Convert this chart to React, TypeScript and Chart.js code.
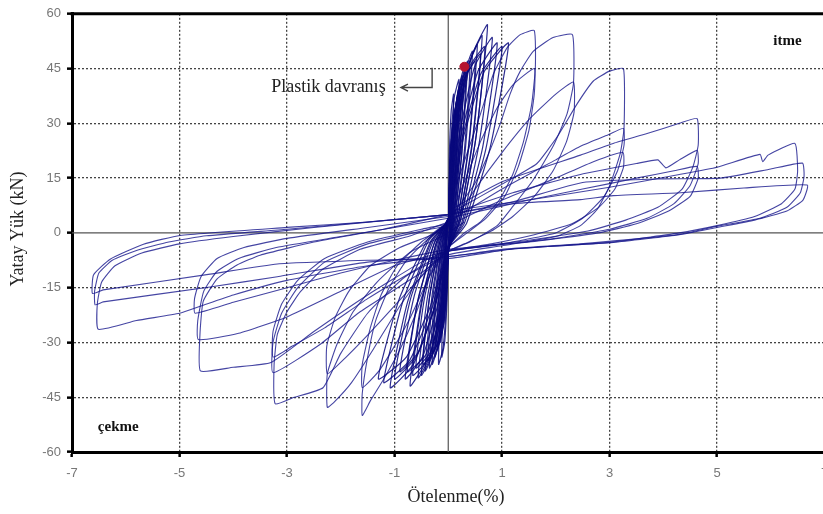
import React, { useEffect, useRef } from 'react';
import { Chart, registerables } from 'chart.js';

Chart.register(...registerables);

type Pt = [number, number];

// Axis ticks
const xTickValues = [-7, -5, -3, -1, 1, 3, 5, 7];
const yTickValues = [-60, -45, -30, -15, 0, 15, 30, 45, 60];

// Yield point marker ("Plastik davranış")
const yieldPoint: Pt[] = [[0.3, 45.5]];

// Small (elastic / early plastic) cycles
const cycleS01: Pt[] = [[0.01,2],[0.015,10],[0.036,17],[0.06,20],[0.042,9],[0.018,1],[0,-4],[-0.013,-7.5],[-0.03,-12.8],[-0.05,-15],[-0.035,-6.8],[-0.015,-0.8],[0,3]];
const cycleS02: Pt[] = [[0.01,2],[0.02,13],[0.048,22],[0.08,26],[0.056,11.7],[0.024,1.3],[0,-4],[-0.018,-10],[-0.042,-17],[-0.07,-20],[-0.049,-9],[-0.021,-1],[0,3]];
const cycleS03: Pt[] = [[0.01,2],[0.025,15],[0.06,25.5],[0.1,30],[0.07,13.5],[0.03,1.5],[0,-4],[-0.025,-12],[-0.06,-20.4],[-0.1,-24],[-0.07,-10.8],[-0.03,-1.2],[0,3]];
const cycleS04: Pt[] = [[0.01,2],[0.03,16.5],[0.072,28],[0.12,33],[0.084,14.9],[0.036,1.7],[0,-4],[-0.03,-13.5],[-0.072,-23],[-0.12,-27],[-0.084,-12.2],[-0.036,-1.4],[0,3]];
const cycleS05: Pt[] = [[0.01,2],[0.038,17.5],[0.09,29.8],[0.15,35],[0.105,15.8],[0.045,1.8],[0,-4],[-0.038,-15],[-0.09,-25.5],[-0.15,-30],[-0.105,-13.5],[-0.045,-1.5],[0,3]];
const cycleS06: Pt[] = [[0.01,2],[0.043,18.5],[0.1,31.5],[0.17,37],[0.12,16.7],[0.05,1.9],[0,-4],[-0.05,-16],[-0.12,-27.2],[-0.2,-32],[-0.14,-14.4],[-0.06,-1.6],[0,3]];
const cycleS07: Pt[] = [[0.01,2],[0.05,19.5],[0.12,33],[0.2,39],[0.14,17.6],[0.06,2],[0,-4],[-0.063,-17],[-0.15,-28.9],[-0.25,-34],[-0.175,-15.3],[-0.075,-1.7],[0,3]];
const cycleS08: Pt[] = [[0.01,2],[0.055,20],[0.132,34],[0.22,40],[0.154,18],[0.066,2],[0,-4],[-0.075,-18],[-0.18,-30.6],[-0.3,-36],[-0.21,-16.2],[-0.09,-1.8],[0,3]];
const cycleS09: Pt[] = [[0.01,2],[0.065,21.5],[0.156,36.5],[0.26,43],[0.18,19.4],[0.078,2.2],[0,-4],[-0.088,-18.5],[-0.21,-31.5],[-0.35,-37],[-0.245,-16.7],[-0.105,-1.9],[0,3]];
const cycleS10: Pt[] = [[0.01,2],[0.075,22.8],[0.18,38.7],[0.3,45.5],[0.21,20.5],[0.09,2.3],[0,-4],[-0.108,-18.9],[-0.258,-32.1],[-0.43,-37.8],[-0.3,-17],[-0.13,-1.9],[0,3]];
const cycleS11: Pt[] = [[0.01,2],[0.09,23.5],[0.216,40],[0.36,47],[0.25,21.2],[0.108,2.4],[0,-4],[-0.125,-19.5],[-0.3,-33.2],[-0.5,-39],[-0.35,-17.6],[-0.15,-2],[0,3]];
const cycleS12: Pt[] = [[0.01,2],[0.113,24.9],[0.27,42.2],[0.45,49.7],[0.315,22.4],[0.135,2.5],[0,-4],[-0.14,-19.9],[-0.336,-33.7],[-0.56,-39.7],[-0.39,-17.9],[-0.17,-2],[0,3]];
const cycleS13: Pt[] = [[0.01,2],[0.135,25.8],[0.324,43.9],[0.54,51.6],[0.38,23.2],[0.16,2.6],[0,-4],[-0.178,-21],[-0.426,-35.6],[-0.71,-41.9],[-0.5,-18.9],[-0.21,-2.1],[0,3]];
const cycleS14: Pt[] = [[0.01,2],[0.158,27],[0.378,45.9],[0.63,54],[0.44,24.3],[0.19,2.7],[0,-4],[-0.2,-20],[-0.48,-34],[-0.8,-40],[-0.56,-18],[-0.24,-2],[0,3]];
const cycleS15: Pt[] = [[0.01,2],[0.183,28.5],[0.438,48.5],[0.73,57],[0.51,25.7],[0.22,2.9],[0,-4],[-0.225,-19],[-0.54,-32.3],[-0.9,-38],[-0.63,-17.1],[-0.27,-1.9],[0,3]];
const cycleS16: Pt[] = [[0.01,2],[0.205,26.8],[0.49,45.5],[0.82,53.5],[0.57,24.1],[0.25,2.7],[0,-4],[-0.27,-21.2],[-0.65,-36],[-1.08,-42.4],[-0.76,-19.1],[-0.32,-2.1],[0,3]];
const cycleS17: Pt[] = [[0.01,2],[0.23,26],[0.55,44.2],[0.91,52],[0.64,23.4],[0.27,2.6],[0,-4],[-0.25,-20],[-0.6,-34],[-1.0,-40],[-0.7,-18],[-0.3,-2],[0,3]];
const cycleS18: Pt[] = [[0.01,2],[0.25,25.5],[0.6,43.4],[1.0,51],[0.7,23],[0.3,2.6],[0,-4],[-0.3,-20.5],[-0.72,-34.9],[-1.2,-41],[-0.84,-18.5],[-0.36,-2],[0,3]];
const cycleS19: Pt[] = [[0.01,2],[0.28,26],[0.67,44.2],[1.12,52],[0.78,23.4],[0.34,2.6],[0,-4],[-0.33,-20],[-0.78,-34],[-1.3,-40],[-0.91,-18],[-0.39,-2],[0,3]];

// Repeated small cycles (degraded second/third cycles)
const cycleS20: Pt[] = [[0.01,2],[0.024,16.5],[0.066,26.4],[0.12,30],[0.09,15],[0.042,2.4],[0,-5],[-0.016,-12.1],[-0.044,-19.4],[-0.08,-22],[-0.06,-11],[-0.028,-1.8],[0,4]];
const cycleS21: Pt[] = [[0.01,2],[0.036,18.7],[0.099,29.9],[0.18,34],[0.135,17],[0.063,2.7],[0,-5],[-0.028,-15.4],[-0.077,-24.6],[-0.14,-28],[-0.105,-14],[-0.049,-2.2],[0,4]];
const cycleS22: Pt[] = [[0.01,2],[0.048,20.9],[0.132,33.4],[0.24,38],[0.18,19],[0.084,3],[0,-5],[-0.044,-17],[-0.121,-27.3],[-0.22,-31],[-0.165,-15.5],[-0.077,-2.5],[0,4]];
const cycleS23: Pt[] = [[0.01,2],[0.056,22.6],[0.154,36.1],[0.28,41],[0.21,20.5],[0.098,3.3],[0,-5],[-0.06,-18.2],[-0.165,-29],[-0.3,-33],[-0.225,-16.5],[-0.105,-2.6],[0,4]];
const cycleS24: Pt[] = [[0.01,2],[0.066,24.2],[0.18,38.7],[0.33,44],[0.25,22],[0.116,3.5],[0,-5],[-0.076,-19.3],[-0.209,-30.8],[-0.38,-35],[-0.285,-17.5],[-0.133,-2.8],[0,4]];
const cycleS25: Pt[] = [[0.01,2],[0.08,24.8],[0.22,39.6],[0.4,45],[0.3,22.5],[0.14,3.6],[0,-5],[-0.094,-19.8],[-0.26,-31.7],[-0.47,-36],[-0.35,-18],[-0.165,-2.9],[0,4]];
const cycleS26: Pt[] = [[0.01,2],[0.1,25.9],[0.275,41.4],[0.5,47],[0.375,23.5],[0.175,3.8],[0,-5],[-0.12,-20.4],[-0.33,-32.6],[-0.6,-37],[-0.45,-18.5],[-0.21,-3],[0,4]];
const cycleS27: Pt[] = [[0.01,2],[0.12,27],[0.33,43.1],[0.6,49],[0.45,24.5],[0.21,3.9],[0,-5],[-0.132,-21.5],[-0.363,-34.3],[-0.66,-39],[-0.495,-19.5],[-0.231,-3.1],[0,4]];
const cycleS28: Pt[] = [[0.01,2],[0.136,28],[0.374,44.9],[0.68,51],[0.51,25.5],[0.238,4.1],[0,-5],[-0.152,-20.9],[-0.418,-33.4],[-0.76,-38],[-0.57,-19],[-0.266,-3],[0,4]];
const cycleS29: Pt[] = [[0.01,2],[0.04,23.1],[0.11,37],[0.2,42],[0.15,21],[0.07,3.4],[0,-5],[-0.036,-19.8],[-0.099,-31.7],[-0.18,-36],[-0.135,-18],[-0.063,-2.9],[0,4]];
const cycleS30: Pt[] = [[0.01,2],[0.02,20.9],[0.055,33.4],[0.1,38],[0.075,19],[0.035,3],[0,-5],[-0.024,-18.7],[-0.066,-29.9],[-0.12,-34],[-0.09,-17],[-0.042,-2.7],[0,4]];

// Drift level ±1.6 %
const cycleL7a: Pt[] = [[0.1,11],[0.35,21.8],[0.6,32.6],[0.84,43.5],[1.1,50.8],[1.34,54.3],[1.6,55.4],[1.62,45],[1.55,35],[1.4,25],[1.2,16],[0.95,9],[0.6,3],[0.3,0],[0,-4],[-0.3,-10],[-0.6,-22],[-0.9,-32],[-1.2,-40],[-1.45,-46],[-1.6,-50],[-1.6,-44],[-1.5,-34],[-1.35,-24],[-1.1,-15],[-0.8,-8],[-0.4,-2],[0,3]];
const cycleL7b: Pt[] = [[0,3],[0.3,14],[0.6,25],[0.9,34],[1.2,40.5],[1.6,45],[1.6,38],[1.5,28],[1.3,18],[1.05,10],[0.7,4],[0.35,0],[0,-4],[-0.35,-12],[-0.7,-23],[-1.0,-31],[-1.3,-38],[-1.6,-42.4],[-1.6,-36],[-1.45,-26],[-1.25,-17],[-0.95,-9],[-0.5,-2.5],[0,3]];

// Drift level ±2.3 %
const cycleL8a: Pt[] = [[0.1,5.5],[0.47,12.9],[0.73,21],[0.97,30],[1.15,38],[1.34,44.3],[1.58,49.7],[1.95,53.5],[2.31,54.3],[2.33,41],[2.21,32.6],[1.95,23.7],[1.58,14.5],[1.21,7.4],[0.91,2],[0.4,-2.5],[0,-5],[-0.4,-10],[-0.9,-20],[-1.4,-32],[-1.8,-41],[-2.1,-46],[-2.25,-47.8],[-2.25,-38.6],[-2.07,-30.5],[-1.77,-21.6],[-1.32,-13.4],[-0.71,-5.3],[-0.09,-0.7],[0.3,3]];
const cycleL8b: Pt[] = [[0.1,3],[0.5,12],[1.0,22],[1.5,31],[2.0,38],[2.33,41.3],[2.34,33],[2.2,25],[1.95,17],[1.6,10],[1.2,4.5],[0.8,0.5],[0.3,-3],[0,-5],[-0.5,-12],[-1.0,-20],[-1.5,-28],[-1.9,-34],[-2.25,-38.6],[-2.26,-31],[-2.1,-23],[-1.85,-16],[-1.45,-9],[-0.9,-4],[-0.3,-0.5],[0.1,3]];

// Drift level ±3.2 %
const cycleL9a: Pt[] = [[0,5],[0.6,10],[1.2,15],[1.65,19],[2.03,26.4],[2.4,35.4],[2.7,41.6],[3.0,44.3],[3.26,45],[3.27,28.6],[3.2,21.8],[3.0,12.8],[2.77,6.4],[2.46,2],[2.0,-1],[1.0,-3.5],[0,-6],[-0.8,-12],[-1.5,-22],[-2.0,-33],[-2.33,-42.4],[-2.88,-45.1],[-3.22,-46.8],[-3.24,-36],[-3.18,-27.8],[-3.0,-21.6],[-2.75,-16.1],[-2.33,-9.9],[-1.64,-4.5],[-0.7,-0.8],[0,3]];
const cycleL9b: Pt[] = [[0,3],[1,12],[2,20],[2.46,23.7],[3.0,27],[3.26,28.6],[3.27,24],[3.15,17],[2.9,10],[2.5,4],[2.0,0],[1.0,-3],[0,-5],[-0.4,-9.9],[-1.64,-21.6],[-2.38,-30.5],[-3.26,-38.3],[-3.26,-30],[-3.1,-22],[-2.8,-15],[-2.3,-8],[-1.5,-3],[-0.5,0.5],[0,2]];
const cycleL9c: Pt[] = [[0,2],[1,9],[2,15],[2.7,19.5],[3.25,22],[3.26,18],[3.1,12],[2.8,7],[2.3,2.5],[1.6,-0.5],[0.8,-3],[0,-5],[-0.6,-10],[-1.5,-18],[-2.3,-26],[-2.9,-31],[-3.26,-34],[-3.26,-27],[-3.1,-19.5],[-2.8,-13],[-2.3,-7],[-1.5,-2.5],[-0.5,1],[0,2.5]];

// Drift level ±4.6 %
const cycleL10a: Pt[] = [[0,6],[1,14],[2.46,21.3],[3.07,24.5],[3.7,27.2],[4.3,30],[4.63,31.3],[4.65,24],[4.55,18],[4.35,12],[3.9,7],[3.3,3.5],[2.6,0.5],[1.5,-2],[0,-5],[-0.5,-8],[-1.5,-17],[-2.5,-27],[-3.3,-35.5],[-4.0,-36.8],[-4.61,-37.8],[-4.62,-28],[-4.56,-18.8],[-4.3,-12.6],[-3.93,-8.8],[-3.5,-6.1],[-2.5,-2.5],[-1.2,1],[0,5]];
const cycleL10b: Pt[] = [[0,5],[1.2,11],[2.46,16],[3.5,19],[3.9,20],[4.05,17.8],[4.3,20],[4.63,22.6],[4.65,19],[4.5,13],[4.2,8],[3.7,4],[3,1],[2,-1.5],[0.8,-3.5],[0,-5],[-1,-9],[-2,-16],[-3,-23],[-3.9,-27.5],[-4.65,-29.2],[-4.66,-24],[-4.55,-16],[-4.3,-10.5],[-3.9,-7],[-3.2,-4],[-2,-1],[0,4]];
const cycleL10c: Pt[] = [[0,4],[1.5,9],[2.5,12],[3.5,15],[4.2,17],[4.63,18.2],[4.65,15],[4.5,10],[4.1,6],[3.5,2.5],[2.8,0],[1.5,-2.5],[0,-4.5],[-1,-7.5],[-2,-11],[-3,-15],[-4,-19],[-4.71,-22],[-4.72,-18],[-4.6,-12],[-4.3,-7],[-3.8,-4],[-3,-1.5],[-1.5,1.5],[0,4.5]];

// Drift level ±6.5 %
const cycleL11a: Pt[] = [[0,6],[1.5,9],[3,12.5],[4.3,16],[5,18],[5.8,21.5],[5.85,19.5],[5.95,21.3],[6.45,24.5],[6.5,17],[6.45,12],[6.2,8],[5.7,4.5],[5,2],[4.3,0],[3,-2.6],[1.2,-4.4],[0,-6.5],[-1.5,-9],[-3,-13],[-4.0,-17],[-4.6,-20],[-5,-22],[-5.8,-24],[-6.51,-26.4],[-6.53,-19.6],[-6.45,-13.5],[-6.2,-9],[-5.7,-5.5],[-5.0,-3],[-4,-1],[-2.5,1.5],[0,5]];
const cycleL11b: Pt[] = [[0,5],[1.2,8.5],[2.5,13.8],[4,14.8],[5.06,15],[6,17.5],[6.59,19.1],[6.62,15.5],[6.55,11],[6.3,7],[5.8,4],[5,1.8],[4.3,-0.4],[2.46,-3],[1,-4.5],[0,-6.5],[-1.5,-8],[-3.18,-12],[-4.43,-14.8],[-6.42,-18.9],[-6.57,-19.7],[-6.58,-16],[-6.5,-11],[-6.25,-7.5],[-5.8,-4.8],[-5.2,-2.5],[-4.5,-0.8],[-3,1],[0,5]];
const cycleL11c: Pt[] = [[0,5],[1.2,8],[2.46,9.1],[3.07,10.2],[4.32,11],[5.5,12.3],[6.68,13.1],[6.6,9],[6.3,6],[5.7,3.5],[5,1.5],[4.3,-0.5],[3.07,-2.6],[1.2,-4.4],[0,-7],[-1.5,-7.5],[-3.18,-8.5],[-4.43,-11.3],[-6.42,-15.6],[-6.62,-16.6],[-6.6,-11.5],[-6.29,-7.2],[-5.67,-3.1],[-4.99,-0.7],[-3,1.5],[-1.5,3],[0,5]];

const smallLoops: Pt[][] = [
  cycleS01, cycleS02, cycleS03, cycleS04, cycleS05, cycleS06, cycleS07, cycleS08, cycleS09, cycleS10,
  cycleS11, cycleS12, cycleS13, cycleS14, cycleS15, cycleS16, cycleS17, cycleS18, cycleS19,
  cycleS20, cycleS21, cycleS22, cycleS23, cycleS24, cycleS25, cycleS26, cycleS27, cycleS28, cycleS29, cycleS30,
];

const largeLoops: Pt[][] = [
  cycleL7a, cycleL7b, cycleL8a, cycleL8b, cycleL9a, cycleL9b, cycleL9c,
  cycleL10a, cycleL10b, cycleL10c, cycleL11a, cycleL11b, cycleL11c,
];

const LINE = 'rgba(22,22,140,0.8)';
const LINE_DENSE = 'rgba(8,8,125,0.85)';

const decor = {
  id: 'decor',
  beforeDatasetsDraw(chart: any) {
    const { ctx, chartArea, scales } = chart;
    const x0 = scales.x.getPixelForValue(0);
    const y0 = scales.y.getPixelForValue(0);
    ctx.save();
    ctx.strokeStyle = '#555';
    ctx.lineWidth = 1.2;
    ctx.beginPath();
    ctx.moveTo(chartArea.left, y0);
    ctx.lineTo(chartArea.right, y0);
    ctx.moveTo(x0, chartArea.top);
    ctx.lineTo(x0, chartArea.bottom);
    ctx.stroke();
    ctx.restore();
  },
  afterDraw(chart: any) {
    const { ctx, chartArea, scales } = chart;
    const sx = scales.x, sy = scales.y;
    ctx.save();
    // top frame
    ctx.strokeStyle = '#000';
    ctx.lineWidth = 3;
    ctx.beginPath();
    ctx.moveTo(chartArea.left - 1.5, chartArea.top);
    ctx.lineTo(chartArea.right, chartArea.top);
    ctx.stroke();

    // annotation text
    ctx.fillStyle = '#222';
    ctx.textAlign = 'center';
    ctx.textBaseline = 'middle';
    ctx.font = '18px "Liberation Serif", "Times New Roman", serif';
    ctx.fillText('Plastik davranış', sx.getPixelForValue(-2.23), sy.getPixelForValue(40.0));

    // arrow
    const ax = sx.getPixelForValue(-0.3);
    const ayTop = sy.getPixelForValue(45.2);
    const ay = sy.getPixelForValue(39.8);
    const axEnd = sx.getPixelForValue(-0.88);
    ctx.strokeStyle = '#444';
    ctx.lineWidth = 1.4;
    ctx.beginPath();
    ctx.moveTo(ax, ayTop);
    ctx.lineTo(ax, ay);
    ctx.lineTo(axEnd, ay);
    ctx.moveTo(axEnd + 7, ay - 3.5);
    ctx.lineTo(axEnd, ay);
    ctx.lineTo(axEnd + 7, ay + 3.5);
    ctx.stroke();

    // side labels
    ctx.fillStyle = '#111';
    ctx.font = 'bold 15px "Liberation Serif", "Times New Roman", serif';
    ctx.fillText('itme', sx.getPixelForValue(6.31), sy.getPixelForValue(52.4));
    ctx.fillText('çekme', sx.getPixelForValue(-6.14), sy.getPixelForValue(-53.2));

    // axis titles
    ctx.fillStyle = '#222';
    ctx.font = '18px "Liberation Serif", "Times New Roman", serif';
    ctx.fillText('Ötelenme(%)', 456, 497);
    ctx.translate(18, 229);
    ctx.rotate(-Math.PI / 2);
    ctx.fillText('Yatay Yük (kN)', 0, 0);
    ctx.restore();
  },
};

export default function App() {
  const ref = useRef<HTMLCanvasElement>(null);

  useEffect(() => {
    const canvas = ref.current;
    if (!canvas) return;
    const toXY = (loop: Pt[]) => loop.map(([x, y]) => ({ x, y }));
    const datasets: any[] = [
      {
        label: 'Plastik davranış',
        data: toXY(yieldPoint),
        showLine: false,
        pointRadius: 4.5,
        pointStyle: 'circle',
        backgroundColor: '#b5122e',
        borderColor: '#b5122e',
      },
      ...smallLoops.map((loop, i) => ({
        label: 'small cycle ' + (i + 1),
        data: toXY(loop),
        showLine: true,
        borderColor: LINE_DENSE,
        borderWidth: 1.2,
        pointRadius: 0,
        fill: false,
        tension: 0.15,
      })),
      ...largeLoops.map((loop, i) => ({
        label: 'large cycle ' + (i + 1),
        data: toXY(loop),
        showLine: true,
        borderColor: LINE,
        borderWidth: 1.1,
        pointRadius: 0,
        fill: false,
        tension: 0.15,
      })),
    ];

    const chart = new Chart(canvas, {
      type: 'scatter',
      data: { datasets },
      options: {
        animation: false,
        responsive: false,
        maintainAspectRatio: false,
        layout: { padding: { top: 9, right: 15.5, left: 0, bottom: 0 } },
        plugins: { legend: { display: false }, tooltip: { enabled: false } },
        elements: { line: { capBezierPoints: true } },
        scales: {
          x: {
            type: 'linear',
            min: -7,
            max: 7,
            afterBuildTicks: (scale: any) => {
              scale.ticks = xTickValues.map((v) => ({ value: v }));
            },
            afterFit: (scale: any) => {
              scale.height = 62;
            },
            ticks: {
              color: '#777',
              font: { family: '"Liberation Sans", Arial, sans-serif', size: 13 },
              padding: 9,
              maxRotation: 0,
              autoSkip: false,
              callback: (v: any) => String(v),
            },
            grid: {
              color: '#444',
              lineWidth: 1.3,
              tickColor: '#000',
              tickLength: 5,
              tickWidth: 2.5,
              tickBorderDash: [],
            } as any,
            border: { color: '#000', width: 3, dash: [2, 2] },
          },
          y: {
            type: 'linear',
            min: -60,
            max: 60,
            afterBuildTicks: (scale: any) => {
              scale.ticks = yTickValues.map((v) => ({ value: v }));
            },
            afterFit: (scale: any) => {
              scale.width = 72;
            },
            ticks: {
              color: '#777',
              font: { family: '"Liberation Sans", Arial, sans-serif', size: 13 },
              padding: 6,
              autoSkip: false,
              callback: (v: any) => String(v),
            },
            grid: {
              color: (c: any) => (c.tick && c.tick.value === 0 ? 'rgba(0,0,0,0)' : '#444'),
              lineWidth: 1.3,
              tickColor: '#000',
              tickLength: 5,
              tickWidth: 2.5,
              tickBorderDash: [],
            } as any,
            border: { color: '#000', width: 3, dash: [2, 2] },
          },
        },
      },
      plugins: [decor],
    });
    return () => chart.destroy();
  }, []);

  return (
    <div
      style={{
        position: 'fixed',
        left: 0,
        top: 0,
        width: 823,
        height: 514,
        overflow: 'hidden',
        background: '#fff',
      }}
    >
      <canvas ref={ref} width={840} height={514} style={{ display: 'block' }} />
    </div>
  );
}
